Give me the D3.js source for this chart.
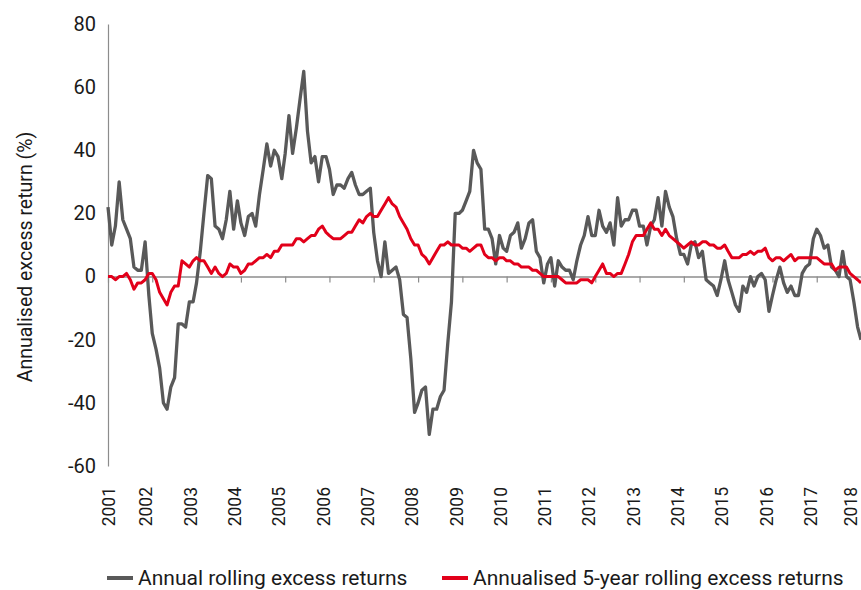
<!DOCTYPE html>
<html>
<head>
<meta charset="utf-8">
<script src="https://cdn.jsdelivr.net/npm/d3@7"></script>
<style>
  body { margin: 0; background: #fff; }
  svg { display: block; font-family: Roboto, "Noto Sans", sans-serif; }
</style>
</head>
<body>
<div id="chart"></div>
<script>
// monthly series, Mar 2001 .. Mar 2018
const START_YEAR = 2001;
const START_MONTH = 2; // March

const annualRolling = [
  22, 10, 16, 30, 18, 15, 12, 3, 2, 2, 11, -6,
  -18, -23, -29, -40, -42, -35, -32, -15, -15, -16, -8, -8,
  -2, 8, 20, 32, 31, 16, 15, 12, 18, 27, 15, 24,
  17, 13, 19, 20, 16, 26, 34, 42, 35, 40, 38, 31,
  39, 51, 39, 47, 56, 65, 46, 36, 38, 30, 38, 38,
  34, 26, 29, 29, 28, 31, 33, 29, 26, 26, 27, 28,
  14, 5, 0, 11, 1, 2, 3, -1, -12, -13, -26, -43,
  -40, -36, -35, -50, -42, -42, -38, -36, -21, -8, 20, 20,
  21, 24, 27, 40, 36, 34, 15, 15, 12, 4, 13, 9,
  8, 13, 14, 17, 9, 12, 17, 18, 8, 6, -2, 4,
  6, -3, 5, 3, 2, 2, -1, 5, 10, 13, 19, 13,
  13, 21, 16, 14, 17, 10, 25, 16, 18, 18, 21, 21,
  16, 16, 10, 16, 18, 25, 16, 27, 22, 19, 12, 7,
  7, 4, 10, 11, 6, 8, -1, -2, -3, -6, -1, 5,
  -1, -5, -9, -11, -3, -5, 0, -3, 0, 1, -1, -11,
  -6, -1, 3, -2, -5, -3, -6, -6, 1, 3, 4, 12,
  15, 13, 9, 10, 3, 2, 0, 8, 0, -1, -8, -16,
  -20
];

const fiveYearRolling = [
  0, 0, -1, 0, 0, 1, -1, -4, -2, -2, -1, 1,
  1, -1, -5, -7, -9, -5, -3, -3, 5, 4, 3, 5,
  6, 5, 5, 3, 1, 3, 1, 0, 1, 4, 3, 3,
  1, 2, 4, 4, 5, 6, 6, 7, 6, 8, 8, 10,
  10, 10, 10, 12, 12, 11, 12, 13, 13, 15, 16, 14,
  13, 12, 12, 12, 13, 14, 14, 16, 18, 17, 19, 20,
  19, 19, 21, 23, 25, 23, 22, 19, 17, 15, 12, 10,
  10, 7, 6, 4, 6, 8, 10, 10, 11, 10, 10, 10,
  9, 9, 8, 9, 10, 10, 7, 6, 6, 5, 6, 6,
  5, 5, 4, 4, 3, 3, 3, 2, 2, 1, 0, 0,
  0, 0, 0, -1, -2, -2, -2, -2, -1, -1, -1, -2,
  0, 2, 4, 1, 1, 0, 1, 1, 4, 7, 11, 13,
  13, 13, 15, 17, 15, 15, 13, 15, 13, 12, 11, 10,
  9, 10, 11, 10, 10, 11, 11, 10, 10, 9, 9, 10,
  8, 6, 6, 6, 7, 7, 8, 7, 8, 8, 9, 6,
  5, 6, 6, 5, 6, 7, 5, 6, 6, 6, 6, 6,
  6, 5, 4, 4, 4, 2, 3, 3, 3, 1, 0, -1,
  -2
];

const yTicks = [-60, -40, -20, 0, 20, 40, 60, 80];
const yearLabels = d3.range(2001, 2019);

const seriesNames = ["Annual rolling excess returns", "Annualised 5-year rolling excess returns"];
const seriesColors = ["#595959", "#e2001a"];

const width = 861;
const height = 590;
const LEFT = 108, RIGHT = 861, TOP = 24, BOTTOM = 466;

const startDate = new Date(START_YEAR, START_MONTH, 1);
const dates = annualRolling.map((v, i) => d3.timeMonth.offset(startDate, i));

const x = d3.scaleTime()
  .domain([dates[0], dates[dates.length - 1]])
  .range([LEFT, RIGHT]);

const y = d3.scaleLinear()
  .domain([-60, 80])
  .range([BOTTOM, TOP]);

const svg = d3.select("#chart")
  .append("svg")
  .attr("width", width)
  .attr("height", height);

// y axis (plain hyphen for negatives, like the original)
const yAxis = svg.append("g")
  .attr("transform", `translate(${LEFT},0)`)
  .call(d3.axisLeft(y).tickValues(yTicks).tickFormat(d => String(d))
    .tickSizeInner(0).tickSizeOuter(0).tickPadding(12));
yAxis.select(".domain").attr("stroke", "#8c8c8c").attr("stroke-width", 1.2);
yAxis.selectAll("text")
  .style("font-size", "20px")
  .style("font-family", "Roboto")
  .attr("fill", "#1a1a1a");

svg.append("text")
  .attr("transform", `translate(25,${(TOP + BOTTOM) / 2 + 12}) rotate(-90)`)
  .attr("text-anchor", "middle")
  .attr("dy", "0.35em")
  .style("font-size", "19.5px")
  .attr("fill", "#1a1a1a")
  .text("Annualised excess return (%)");

// zero line with yearly ticks
const tickDates = d3.range(0, dates.length, 12).map(i => dates[i]);
const xAxis = svg.append("g")
  .attr("transform", `translate(0,${y(0)})`)
  .call(d3.axisBottom(x).tickValues(tickDates).tickFormat("").tickSizeInner(6).tickSizeOuter(0));
xAxis.select(".domain").attr("stroke", "#8c8c8c").attr("stroke-width", 1.5);
xAxis.selectAll(".tick line").attr("stroke", "#8c8c8c").attr("stroke-width", 1.2);

// year labels (rotated)
svg.append("g")
  .selectAll("text")
  .data(yearLabels)
  .enter()
  .append("text")
  .attr("transform", d => {
    const dt = d === START_YEAR ? startDate : new Date(d, 0, 1);
    return `translate(${Math.min(x(dt) + 1, 851)},487) rotate(-90)`;
  })
  .attr("text-anchor", "end")
  .attr("dy", "0.36em")
  .style("font-size", "17.5px")
  .attr("fill", "#1a1a1a")
  .text(d => d);

// lines
const line = d3.line()
  .x((d, i) => x(dates[i]))
  .y(d => y(d));

svg.append("path")
  .datum(annualRolling)
  .attr("d", line)
  .attr("fill", "none")
  .attr("stroke", seriesColors[0])
  .attr("stroke-width", 3.3)
  .attr("stroke-linejoin", "round");

svg.append("path")
  .datum(fiveYearRolling)
  .attr("d", line)
  .attr("fill", "none")
  .attr("stroke", seriesColors[1])
  .attr("stroke-width", 3)
  .attr("stroke-linejoin", "round");

// legend
const legendX = [107, 442];
const legend = svg.append("g")
  .selectAll("g")
  .data(seriesNames)
  .enter()
  .append("g")
  .attr("transform", (d, i) => `translate(${legendX[i]},578)`);

legend.append("line")
  .attr("x1", 0).attr("x2", 26)
  .attr("y1", 0).attr("y2", 0)
  .attr("stroke", (d, i) => seriesColors[i])
  .attr("stroke-width", 4);

legend.append("text")
  .attr("x", 31)
  .attr("y", 7)
  .style("font-size", "21px")
  .attr("fill", "#1a1a1a")
  .text(d => d);
</script>
</body>
</html>
